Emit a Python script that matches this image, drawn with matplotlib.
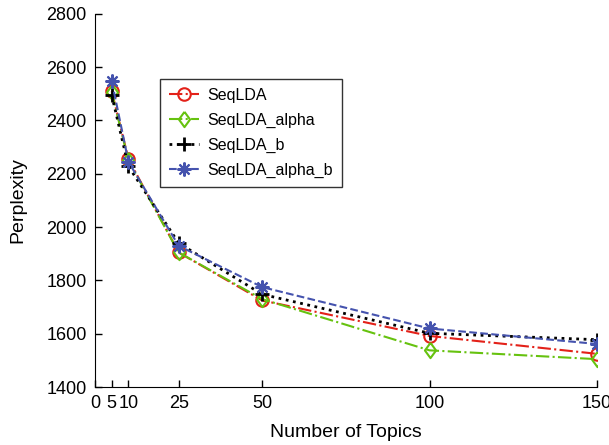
import matplotlib
matplotlib.use("Agg")
import matplotlib.pyplot as plt

plt.rcParams['font.family'] = ['Liberation Sans', 'DejaVu Sans']

topics = [5, 10, 25, 50, 100, 150]
seqlda = [2510, 2255, 1905, 1725, 1592, 1525]
seqlda_alpha = [2505, 2250, 1905, 1730, 1538, 1505]
seqlda_b = [2495, 2228, 1940, 1748, 1602, 1578]
seqlda_alpha_b = [2548, 2245, 1930, 1775, 1620, 1562]

xticks = [0, 5, 10, 25, 50, 100, 150]
yticks = [1400, 1600, 1800, 2000, 2200, 2400, 2600, 2800]

# tall diamond, like the MATLAB 'd' marker
diamond = [(0, 1), (0.73, 0), (0, -1), (-0.73, 0), (0, 1)]

fig = plt.figure(figsize=(6.09, 4.45), dpi=100)
ax = fig.add_axes([0.156, 0.130, 0.824, 0.839])

ax.plot(topics, seqlda, color='#e32119', linestyle='-.', lw=1.5,
        marker='o', ms=9, mfc='none', mew=1.5, label='SeqLDA')
ax.plot(topics, seqlda_alpha, color='#66c20f', linestyle='-.', lw=1.5,
        marker=diamond, ms=11, mfc='none', mew=1.5, label='SeqLDA_alpha')
ax.plot(topics, seqlda_b, color='black', linestyle=':', lw=2,
        marker='+', ms=10, mew=2, label='SeqLDA_b')
ax.plot(topics, seqlda_alpha_b, color='#4553ae', linestyle='--', lw=1.5,
        marker=(8, 2, 0), ms=10, mew=1.5, label='SeqLDA_alpha_b')

ax.set_xlim(0, 150)
ax.set_ylim(1400, 2800)
ax.set_xticks(xticks)
ax.set_yticks(yticks)
ax.tick_params(direction='in', labelsize=13, length=5, width=1, pad=6)
ax.spines['top'].set_visible(False)
ax.spines['right'].set_visible(False)
ax.set_xlabel('Number of Topics', fontsize=14, labelpad=8)
ax.set_ylabel('Perplexity', fontsize=14, labelpad=14)

leg = ax.legend(loc='upper left', bbox_to_anchor=(0.13, 0.825), fontsize=11.5,
                frameon=True, fancybox=False, edgecolor='black',
                handlelength=1.9, handletextpad=0.5, borderpad=0.55,
                labelspacing=0.62, borderaxespad=0)
leg.get_frame().set_linewidth(1)

fig.savefig('out.png', dpi=100)
